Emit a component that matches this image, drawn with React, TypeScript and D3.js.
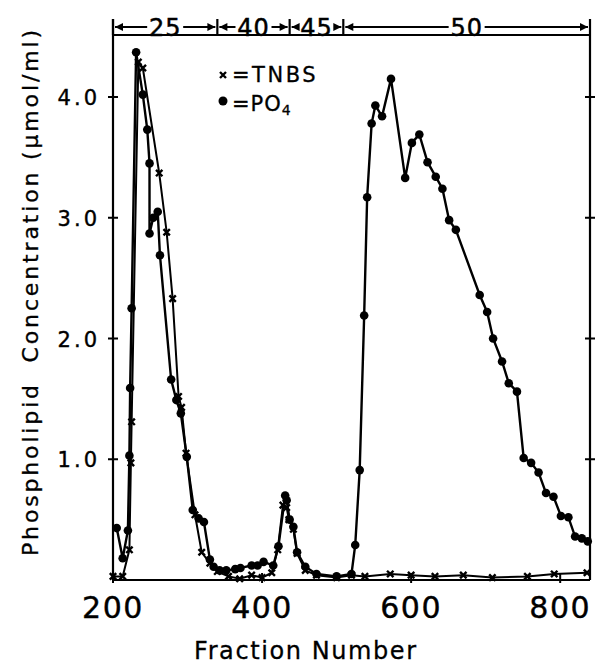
import React from "react";
import * as d3 from "d3";

// Fraction numbers and phospholipid concentrations (µmol/ml)
const po4Fractions = [205, 213, 220, 222, 223, 225, 231, 240, 246, 249, 249, 254, 260, 263, 278, 285, 291, 299, 307, 315, 322, 330, 335, 343, 352, 364, 371, 386, 394, 402, 415, 422, 431, 433, 437, 442, 447, 458, 473, 500, 520, 525, 531, 537, 541, 547, 552, 561, 573, 592, 601, 611, 622, 633, 642, 651, 660, 692, 702, 710, 722, 731, 742, 751, 761, 771, 781, 791, 801, 811, 820, 829, 837];
const po4Values = [0.43, 0.18, 0.41, 1.03, 1.59, 2.25, 4.37, 4.02, 3.73, 3.45, 2.87, 3.0, 3.05, 2.69, 1.66, 1.49, 1.38, 1.02, 0.58, 0.51, 0.48, 0.17, 0.11, 0.08, 0.08, 0.09, 0.1, 0.12, 0.12, 0.15, 0.12, 0.28, 0.7, 0.66, 0.5, 0.44, 0.23, 0.11, 0.05, 0.03, 0.05, 0.29, 0.91, 2.19, 3.17, 3.78, 3.93, 3.84, 4.15, 3.33, 3.62, 3.69, 3.46, 3.34, 3.24, 2.98, 2.9, 2.36, 2.22, 2.0, 1.81, 1.63, 1.56, 1.01, 0.97, 0.89, 0.72, 0.69, 0.53, 0.52, 0.36, 0.345, 0.32];

const tnbsFractions = [200, 213, 222, 224, 225, 234, 240, 262, 272, 280, 288, 292, 298, 310, 319, 330, 340, 355, 370, 386, 400, 413, 421, 428, 433, 436, 442, 447, 458, 473, 500, 520, 538, 572, 600, 632, 670, 709, 756, 792, 836];
const tnbsValues = [0.03, 0.03, 0.25, 0.97, 1.31, 4.29, 4.24, 3.37, 2.88, 2.33, 1.52, 1.43, 1.05, 0.54, 0.23, 0.14, 0.07, 0.03, 0.01, 0.04, 0.02, 0.06, 0.25, 0.62, 0.6, 0.5, 0.42, 0.22, 0.08, 0.04, 0.02, 0.04, 0.03, 0.05, 0.04, 0.03, 0.04, 0.02, 0.03, 0.05, 0.06];

const xTicks = [200, 400, 600, 800];
const xTickLabels = ["200", "400", "600", "800"];
const yTicks = [1, 2, 3, 4];
const yTickLabels = ["1.0", "2.0", "3.0", "4.0"];

// Top brackets (fraction boundaries and labels)
const bracketBounds = [200, 340, 437, 509, 840];
const bracketLabels = ["25", "40", "45", "50"];

const W = 596;
const H = 666;
const left = 113;
const right = 590;
const top = 35;
const bottom = 580;

const FONT = "'DejaVu Sans', sans-serif";

export default function App() {
  const x = d3.scaleLinear().domain([200, 840]).range([left, right]);
  const y = d3.scaleLinear().domain([0, (bottom - top) / 120.75]).range([bottom, top]);

  const po4 = po4Fractions.map((f, i) => [f, po4Values[i]] as [number, number]);
  const tnbs = tnbsFractions.map((f, i) => [f, tnbsValues[i]] as [number, number]);

  const line = d3
    .line<[number, number]>()
    .x((d) => x(d[0]))
    .y((d) => y(d[1]));

  const xMark = (cx: number, cy: number, k: number, s = 3.2) => (
    <path
      key={k}
      d={`M${cx - s},${cy - s}L${cx + s},${cy + s}M${cx + s},${cy - s}L${cx - s},${cy + s}`}
      stroke="#000"
      strokeWidth={2.4}
      fill="none"
    />
  );

  const bracketY = 27;

  return (
    <svg
      width={W}
      height={H}
      style={{ position: "absolute", left: 0, top: 0, background: "#fff" }}
      fontFamily={FONT}
    >
      <rect x={0} y={0} width={W} height={H} fill="#fff" />
      {/* frame */}
      <line x1={left} y1={top} x2={right} y2={top} stroke="#000" strokeWidth={2.2} />
      <line x1={left} y1={19} x2={left} y2={bottom} stroke="#000" strokeWidth={2.2} />
      <line x1={right} y1={19} x2={right} y2={bottom} stroke="#000" strokeWidth={2.2} />
      <line x1={left} y1={bottom} x2={right} y2={bottom} stroke="#000" strokeWidth={2.2} />

      {/* y ticks */}
      {yTicks.map((t, i) => (
        <g key={"yt" + i}>
          <line x1={left - 5} x2={left + 5} y1={y(t)} y2={y(t)} stroke="#000" strokeWidth={2} />
          <line x1={right - 5} x2={right + 5} y1={y(t)} y2={y(t)} stroke="#000" strokeWidth={2} />
          <text
            x={100}
            y={y(t) + 8}
            textAnchor="end"
            fontSize={21}
            letterSpacing={3}
            stroke="#000"
            strokeWidth={0.4}
          >
            {yTickLabels[i]}
          </text>
        </g>
      ))}

      {/* x ticks */}
      {xTicks.map((t, i) => (
        <g key={"xt" + i}>
          <line x1={x(t)} x2={x(t)} y1={bottom - 7} y2={bottom + 3} stroke="#000" strokeWidth={2} />
          <text
            x={x(t)}
            y={bottom + 38}
            textAnchor="middle"
            fontSize={30}
            letterSpacing={1.5}
            stroke="#000"
            strokeWidth={0.4}
          >
            {xTickLabels[i]}
          </text>
        </g>
      ))}

      {/* axis titles */}
      <text
        x={194}
        y={659}
        fontSize={24}
        textLength={222}
        lengthAdjust="spacing"
        stroke="#000"
        strokeWidth={0.3}
      >
        Fraction Number
      </text>
      <text
        transform={`translate(38, 556) rotate(-90)`}
        fontSize={22}
        textLength={526}
        lengthAdjust="spacing"
        stroke="#000"
        strokeWidth={0.3}
        style={{ whiteSpace: "pre" }}
      >
        {"Phospholipid  Concentration (µmol/ml)"}
      </text>

      {/* top brackets */}
      {bracketLabels.map((lab, i) => {
        const x0 = x(bracketBounds[i]);
        const x1 = x(bracketBounds[i + 1]);
        const cx = (x0 + x1) / 2;
        const half = 18;
        return (
          <g key={"br" + i}>
            <line x1={x0} x2={x0} y1={19} y2={top} stroke="#000" strokeWidth={2.2} />
            <line x1={x0 + 2} x2={cx - half} y1={bracketY} y2={bracketY} stroke="#000" strokeWidth={2} />
            <line x1={cx + half} x2={x1 - 2} y1={bracketY} y2={bracketY} stroke="#000" strokeWidth={2} />
            <path d={`M${x0 + 2},${bracketY}l8,-4v8z`} fill="#000" />
            <path d={`M${x1 - 2},${bracketY}l-8,-4v8z`} fill="#000" />
            <text
              x={cx}
              y={bracketY + 8.5}
              textAnchor="middle"
              fontSize={24}
              letterSpacing={1}
              stroke="#000"
              strokeWidth={0.5}
            >
              {lab}
            </text>
          </g>
        );
      })}

      {/* series */}
      <path d={line(tnbs) || ""} fill="none" stroke="#000" strokeWidth={2} />
      <path d={line(po4) || ""} fill="none" stroke="#000" strokeWidth={2.4} />
      {tnbs.map((d, i) => xMark(x(d[0]), y(d[1]), i))}
      {po4.map((d, i) => (
        <circle key={"p" + i} cx={x(d[0])} cy={y(d[1])} r={4.3} fill="#000" />
      ))}

      {/* legend */}
      {xMark(223, 75, 9999, 3)}
      <text x={232} y={82} fontSize={21} letterSpacing={2.5} stroke="#000" strokeWidth={0.3}>
        =TNBS
      </text>
      <circle cx={223} cy={101} r={4.5} fill="#000" />
      <text x={232} y={111} fontSize={21} letterSpacing={1} stroke="#000" strokeWidth={0.3}>
        =PO
        <tspan fontSize={14} dy={4}>4</tspan>
      </text>
    </svg>
  );
}
